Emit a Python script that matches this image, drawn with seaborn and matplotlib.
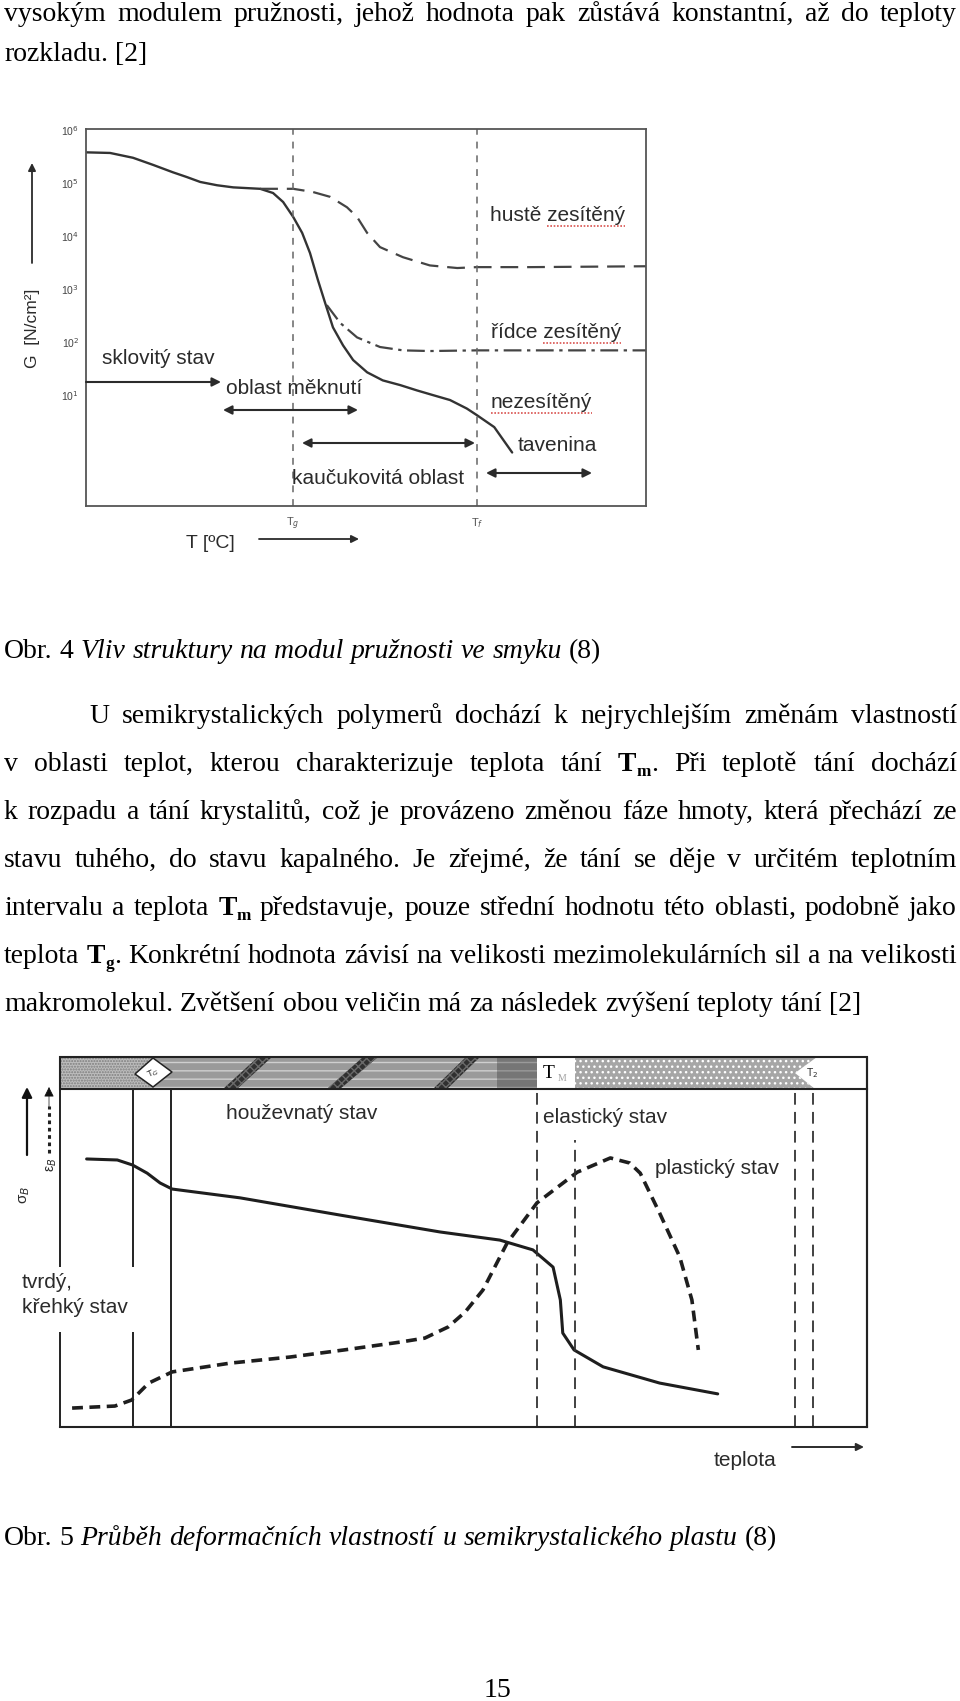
import matplotlib
matplotlib.use("Agg")
import matplotlib.pyplot as plt
import seaborn as sns
from matplotlib.transforms import Affine2D
from matplotlib.patches import Polygon, Rectangle, FancyArrowPatch
from matplotlib.lines import Line2D
from matplotlib.ticker import NullLocator

# ---------- Obr. 4: G [N/cm2] vs. teplota (0-100 = sirka grafu) ----------
t_nezesiteny = [0.0, 4.3, 8.4, 12.0, 15.5, 18.0, 20.4, 23.4, 26.3, 31.1, 33.4, 35.2,
                37.0, 38.6, 40.0, 41.4, 42.7, 44.1, 45.9, 47.7, 50.2, 53.0, 56.1,
                59.1, 62.0, 65.0, 68.0, 69.8, 72.9, 76.1]
g_nezesiteny = [3.8e5, 3.7e5, 3.0e5, 2.2e5, 1.6e5, 1.3e5, 1.05e5, 9.1e4, 8.3e4, 7.8e4,
                6.5e4, 4.4e4, 2.3e4, 1.15e4, 4.8e3, 1.5e3, 550, 190, 87, 46, 27, 19,
                15.5, 12.3, 10, 8.1, 5.6, 4.2, 2.5, 0.83]
t_huste = [31.1, 37.0, 40.5, 43.6, 46.6, 48.4, 50.2, 52.5, 56.6, 61.4, 66.3, 69.8, 79.3, 100]
g_huste = [7.8e4, 7.8e4, 6.8e4, 5.5e4, 3.5e4, 2.3e4, 1.15e4, 6.2e3, 4.0e3, 2.8e3,
           2.5e3, 2.6e3, 2.6e3, 2.7e3]
t_ridce = [43.0, 45.4, 48.4, 52.5, 56.6, 61.4, 69.8, 100]
g_ridce = [500, 230, 123, 81, 70, 68, 70, 70]
t_prechody = [37.0, 69.8]
prechody_labels = ["T$_g$", "T$_f$"]
g_ticks = [1e1, 1e2, 1e3, 1e4, 1e5, 1e6]
g_ticklabels = ["10$^1$", "10$^2$", "10$^3$", "10$^4$", "10$^5$", "10$^6$"]

# ---------- Obr. 5: deformacni vlastnosti (relativni jednotky) ----------
t_sigma = [3.3, 7.1, 9.0, 10.8, 12.4, 13.9, 22.3, 34.7, 47.1, 54.5, 58.6, 61.1, 62.0,
           62.3, 63.7, 67.3, 74.3, 81.5]
sigma = [79.3, 79.0, 77.5, 75.1, 72.2, 70.4, 67.8, 62.7, 57.7, 55.3, 52.4, 47.3, 37.6,
         27.8, 22.8, 17.8, 13.0, 9.8]
t_eps = [1.5, 6.8, 8.9, 11.0, 13.9, 21.1, 28.5, 35.2, 42.1, 45.2, 48.1, 50.2, 52.4,
         55.4, 59.1, 64.1, 68.2, 70.6, 71.9, 74.3, 76.8, 78.3, 79.1]
eps = [5.6, 6.2, 8.0, 13.0, 16.3, 18.9, 20.7, 22.8, 25.1, 26.3, 29.6, 34.0, 40.5, 54.4,
       66.3, 75.4, 79.6, 78.1, 75.1, 63.3, 50.3, 37.6, 22.8]
t_tg = [9.0, 13.8]
t_tm = [59.1, 63.8]
t_t2 = [91.1, 93.3]

# ---------- text of the page ----------
line_top1 = [("vysokým modulem pružnosti, jehož hodnota pak zůstává konstantní, až do teploty", "r")]
line_top2 = [("rozkladu. [2]", "r")]
caption4 = [("Obr. 4 ", "r"), ("Vliv struktury na modul pružnosti ve smyku", "i"), (" (8)", "r")]
paragraph = [
    [("U semikrystalických polymerů dochází k nejrychlejším změnám vlastností", "r")],
    [("v oblasti teplot, kterou charakterizuje teplota tání ", "r"), ("T", "b"), ("m", "s"),
     (". Při teplotě tání dochází", "r")],
    [("k rozpadu a tání krystalitů, což je provázeno změnou fáze hmoty, která přechází ze", "r")],
    [("stavu tuhého, do stavu kapalného. Je zřejmé, že tání se děje v určitém teplotním", "r")],
    [("intervalu a teplota ", "r"), ("T", "b"), ("m", "s"),
     (" představuje, pouze střední hodnotu této oblasti, podobně jako", "r")],
    [("teplota ", "r"), ("T", "b"), ("g", "s"),
     (". Konkrétní hodnota závisí na velikosti mezimolekulárních sil a na velikosti", "r")],
    [("makromolekul. Zvětšení obou veličin má za následek zvýšení teploty tání [2]", "r")],
]
caption5 = [("Obr. 5 ", "r"), ("Průběh deformačních vlastností u semikrystalického plastu", "i"),
            (" (8)", "r")]

# ---------------------------------------------------------------
sns.set_style("white")
plt.rcParams["font.family"] = ["Liberation Sans", "DejaVu Sans"]

W, H = 960, 1701
fig = plt.figure(figsize=(W / 100, H / 100), dpi=100)
renderer = fig.canvas.get_renderer()
PX = Affine2D().scale(1, -1).translate(0, H)   # page pixels, origin top-left
SERIF = ["Liberation Serif", "DejaVu Serif"]
INK = "#2b2b2b"


def rect(x0, y0, x1, y1):
    return [x0 / W, 1 - y1 / H, (x1 - x0) / W, (y1 - y0) / H]


def style_kw(st, fs):
    kw = dict(family=SERIF, fontsize=fs, color="black")
    if st == "i":
        kw["style"] = "italic"
    if st in ("b", "s"):
        kw["weight"] = "bold"
    if st == "s":
        kw["fontsize"] = fs * 0.62
    return kw


def seg_width(txt, st, fs):
    t = fig.text(0, 0, txt, **style_kw(st, fs))
    w = t.get_window_extent(renderer).width
    t.remove()
    return w


def words_of(runs):
    words, cur = [], []
    for txt, st in runs:
        for k, p in enumerate(txt.split(" ")):
            if k > 0 and cur:
                words.append(cur)
                cur = []
            if p:
                cur.append((p, st))
    if cur:
        words.append(cur)
    return words


def line_width(runs, fs):
    ws = [sum(seg_width(p, st, fs) for p, st in w) for w in words_of(runs)]
    sp = seg_width("a a", "r", fs) - seg_width("aa", "r", fs)
    return sum(ws) + sp * (len(ws) - 1)


def draw_line(runs, x0, base, fs, x1=None):
    words = words_of(runs)
    widths = [[seg_width(p, st, fs) for p, st in w] for w in words]
    sp = seg_width("a a", "r", fs) - seg_width("aa", "r", fs)
    gap = sp
    if x1 is not None and len(words) > 1:
        gap = (x1 - x0 - sum(sum(w) for w in widths)) / (len(words) - 1)
    x = x0
    for w, ws in zip(words, widths):
        for (p, st), pw in zip(w, ws):
            dy = 5 if st == "s" else 0
            fig.text(x, base + dy, p, transform=PX, ha="left", va="baseline",
                     **style_kw(st, fs))
            x += pw
        x += gap


def label(x, y, s, fs=15, ha="left", **kw):
    kw.setdefault("color", INK)
    return fig.text(x, y, s, transform=PX, ha=ha, va="center", fontsize=fs, **kw)


def squiggle(x, y, s, word, fs=15):
    # red spell-check underline under the last word of a label
    t = fig.text(0, 0, s[: len(s) - len(word)], fontsize=fs)
    x0 = x + (t.get_window_extent(renderer).width if s != word else 0)
    t.remove()
    t = fig.text(0, 0, word, fontsize=fs)
    x1 = x0 + t.get_window_extent(renderer).width
    t.remove()
    fig.add_artist(Line2D([x0, x1], [y + 11, y + 11], transform=PX, color="#d9534f",
                          lw=1.2, linestyle=(0, (1.0, 1.0))))


def arrow(p0, p1, style="-|>", lw=1.5, ms=13, color=INK):
    fig.add_artist(FancyArrowPatch(p0, p1, arrowstyle=style, mutation_scale=ms, lw=lw,
                                   color=color, transform=PX, shrinkA=0, shrinkB=0))


# body font size calibrated on the widths of the non-justified lines
fs0 = 17.0
measured = line_width(caption4, fs0) + line_width(caption5, fs0) + line_width(paragraph[-1], fs0)
fs = fs0 * (600 + 775 + 857) / measured

draw_line(line_top1, 4, 21, fs, 957)
draw_line(line_top2, 4, 61, fs)
draw_line(caption4, 4, 658, fs)
for i, runs in enumerate(paragraph):
    x0 = 89 if i == 0 else 4
    right = 957 if i < len(paragraph) - 1 else None
    draw_line(runs, x0, 723 + 48 * i, fs, right)
draw_line(caption5, 4, 1545, fs)
fig.text(497, 1697, "15", transform=PX, ha="center", va="baseline", **style_kw("r", fs))

# ================= Obr. 4 =================
ax1 = fig.add_axes(rect(86, 129, 646, 506))
ax1.set_yscale("log")
sns.lineplot(x=t_nezesiteny, y=g_nezesiteny, ax=ax1, color="#333333", lw=1.7,
             sort=False, estimator=None)
sns.lineplot(x=t_huste, y=g_huste, ax=ax1, color="#444444", lw=1.6,
             linestyle=(0, (8, 4)), sort=False, estimator=None)
sns.lineplot(x=t_ridce, y=g_ridce, ax=ax1, color="#444444", lw=1.6,
             linestyle=(0, (8, 2.5, 1.5, 2.5)), sort=False, estimator=None)
for t in t_prechody:
    ax1.axvline(t, color="#666666", lw=1.1, linestyle=(0, (4.5, 4.5)))
ax1.set_xlim(0, 100)
ax1.set_ylim(10 ** -1.09, 10 ** 6.02)
ax1.set_yticks(g_ticks, labels=g_ticklabels)
ax1.yaxis.set_minor_locator(NullLocator())
ax1.tick_params(axis="y", direction="in", length=5, width=1, colors="#444444",
                labelsize=7.5, pad=5)
ax1.set_xticks(t_prechody, labels=prechody_labels)
ax1.tick_params(axis="x", length=0, labelsize=8, pad=7, colors="#555555")
ax1.set_xlabel("")
ax1.set_ylabel("")
for s in ax1.spines.values():
    s.set_color("#555555")
    s.set_linewidth(1.3)

label(32, 328, "G  [N/cm²]", fs=12.5, ha="center", rotation=90)
arrow((32, 263), (32, 163), lw=1.3, ms=11)
label(490, 215, "hustě zesítěný")
squiggle(490, 215, "hustě zesítěný", "zesítěný")
label(491, 332, "řídce zesítěný")
squiggle(491, 332, "řídce zesítěný", "zesítěný")
label(491, 402, "nezesítěný")
squiggle(491, 402, "nezesítěný", "nezesítěný")
label(518, 445, "tavenina")
label(102, 358, "sklovitý stav")
label(226, 388, "oblast měknutí")
label(292, 478, "kaučukovitá oblast")
label(186, 543, "T [ºC]", fs=14)
arrow((86, 382), (221, 382))
arrow((223, 410), (358, 410), style="<|-|>")
arrow((302, 443), (475, 443), style="<|-|>")
arrow((486, 473), (592, 473), style="<|-|>")
arrow((259, 539), (359, 539), lw=1.3, ms=11)

# ================= Obr. 5 =================
ax2 = fig.add_axes(rect(60, 1089, 867, 1427))
sns.lineplot(x=t_sigma, y=sigma, ax=ax2, color="#1e1e1e", lw=2.2, sort=False, estimator=None)
sns.lineplot(x=t_eps, y=eps, ax=ax2, color="#1e1e1e", lw=2.6, linestyle=(0, (3, 1.8)),
             sort=False, estimator=None)
gap_lo, gap_hi = 28.1, 47.3
ax2.vlines([0, t_tg[0]], 0, gap_lo, color="#222222", lw=1.4, clip_on=False)
ax2.vlines([0, t_tg[0]], gap_hi, 100, color="#222222", lw=1.4, clip_on=False)
ax2.vlines(t_tg[1:], 0, 100, color="#222222", lw=1.4, clip_on=False)
dash = (0, (6.5, 4))
ax2.vlines(t_tm[:1] + t_t2, 0, 100, color="#333333", lw=1.3, linestyle=dash)
ax2.vlines(t_tm[1:], 0, 85, color="#333333", lw=1.3, linestyle=dash)
ax2.set_xlim(0, 100)
ax2.set_ylim(0, 100)
ax2.set_xticks([])
ax2.set_yticks([])
ax2.set_xlabel("")
ax2.set_ylabel("")
ax2.spines["left"].set_visible(False)
ax2.spines["top"].set_visible(False)
for k in ("bottom", "right"):
    ax2.spines[k].set_color("#222222")
    ax2.spines[k].set_linewidth(1.5)

# band with the states on top of Obr. 5
band = [
    Rectangle((60, 1057), 95, 32, facecolor="#bdbdbd", edgecolor="#7e7e7e", hatch="......", lw=0),
    Rectangle((153, 1057), 384, 32, facecolor="#9a9a9a", edgecolor="#cfcfcf", hatch="--", lw=0),
    Rectangle((497, 1057), 40, 32, facecolor="#767676", edgecolor="#9a9a9a", hatch="--", lw=0),
    Polygon([(223, 1089), (237, 1089), (272, 1057), (258, 1057)], facecolor="#303030",
            edgecolor="#6a6a6a", hatch="xxxx", lw=0),
    Polygon([(327, 1089), (340, 1089), (378, 1057), (363, 1057)], facecolor="#303030",
            edgecolor="#6a6a6a", hatch="xxxx", lw=0),
    Polygon([(433, 1089), (447, 1089), (480, 1057), (466, 1057)], facecolor="#303030",
            edgecolor="#6a6a6a", hatch="xxxx", lw=0),
    Rectangle((537, 1057), 38, 32, facecolor="white", lw=0),
    Polygon([(575, 1057), (817, 1057), (795, 1073), (815, 1089), (575, 1089)],
            facecolor="#a6a6a6", edgecolor="white", hatch="...", lw=0),
    Polygon([(153, 1058), (172, 1072), (153, 1087), (135, 1074)], facecolor="white",
            edgecolor="#222222", lw=1.1),
    Rectangle((60, 1057), 807, 32, facecolor="none", edgecolor="#222222", lw=1.5),
]
for p in band:
    p.set_transform(PX)
    fig.add_artist(p)
fig.add_artist(Line2D([867, 867], [1057, 1427], transform=PX, color="#222222", lw=1.5))

fig.text(153, 1073, "T$_G$", transform=PX, ha="center", va="center", fontsize=6.5,
         rotation=25, color=INK)
fig.text(549, 1073, "T", transform=PX, ha="center", va="center", fontsize=14,
         family=SERIF, color="black")
fig.text(562, 1078, "M", transform=PX, ha="center", va="center", fontsize=7,
         family=SERIF, color="#a0a0a0")
fig.text(812, 1073, "T$_2$", transform=PX, ha="center", va="center", fontsize=7.5,
         color=INK)

label(226, 1113, "houževnatý stav")
label(543, 1117, "elastický stav")
label(655, 1168, "plastický stav")
label(22, 1282, "tvrdý,")
label(22, 1307, "křehký stav")
label(714, 1460, "teplota", fs=15)
arrow((792, 1447), (864, 1447), lw=1.4, ms=11)

# y-axis arrows of Obr. 5
arrow((27, 1155), (27, 1087), lw=1.6, ms=15, color="#111111")
fig.add_artist(Line2D([49, 49], [1153, 1106], transform=PX, color="#222222", lw=2.2,
                      linestyle=(0, (1.2, 1.2))))
arrow((49, 1108), (49, 1087), lw=0.5, ms=15, color="#111111")
fig.text(25, 1195, "σ$_B$", transform=PX, ha="center", va="center", fontsize=11,
         rotation=90, color=INK)
fig.text(52, 1165, "ε$_B$", transform=PX, ha="center", va="center", fontsize=10,
         rotation=90, color=INK)

fig.savefig("out.png", dpi=100, facecolor="white")
